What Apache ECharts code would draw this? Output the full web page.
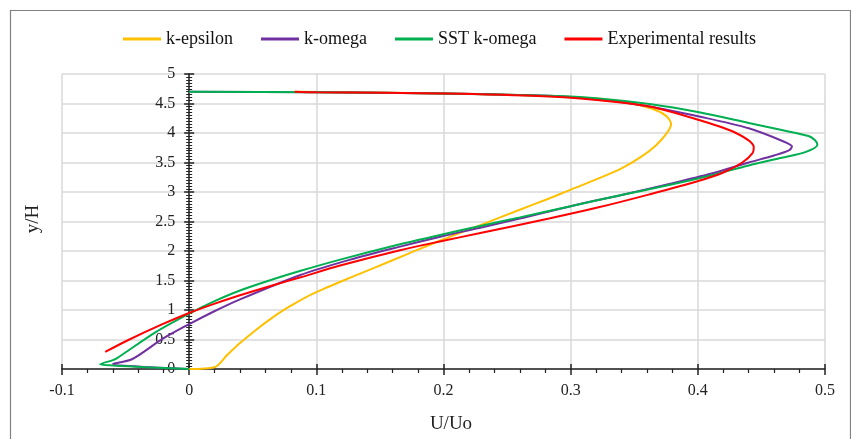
<!DOCTYPE html>
<html>
<head>
<meta charset="utf-8">
<script src="https://cdn.jsdelivr.net/npm/echarts@6/dist/echarts.min.js"></script>
<style>
html,body{margin:0;padding:0;background:#fff;}
#chart{width:851px;height:439px;}
</style>
</head>
<body>
<div id="chart"></div>
<script>
// Series names
const seriesNames = ['k-epsilon', 'k-omega', 'SST k-omega', 'Experimental results'];
// Axis tick settings
const xTicks = { min: -0.1, max: 0.5, interval: 0.1 };
const yTicks = { min: 0, max: 5, interval: 0.5 };
const axisTitles = { x: 'U/Uo', y: 'y/H' };

// [U/Uo, y/H] points along each profile
const kEpsilon = [
  [0, 0], [0.02, 0.03], [0.03, 0.24], [0.04, 0.44], [0.053, 0.67], [0.066, 0.88],
  [0.079, 1.06], [0.092, 1.22], [0.105, 1.35], [0.118, 1.47], [0.145, 1.71],
  [0.173, 1.96], [0.199, 2.19], [0.228, 2.43], [0.26, 2.70], [0.283, 2.89],
  [0.30, 3.04], [0.322, 3.23], [0.34, 3.40], [0.355, 3.59], [0.367, 3.79],
  [0.375, 3.98], [0.379, 4.15], [0.375, 4.29], [0.364, 4.41], [0.336, 4.55],
  [0.30, 4.61], [0.25, 4.65], [0.2, 4.67], [0.12, 4.69], [0.083, 4.70]
];
const kOmega = [
  [0, 0], [-0.03, 0.03], [-0.060, 0.085], [-0.045, 0.165], [-0.021, 0.51],
  [0, 0.76], [0.019, 0.97], [0.040, 1.18], [0.087, 1.59], [0.126, 1.85],
  [0.165, 2.07], [0.199, 2.25], [0.228, 2.39], [0.26, 2.55], [0.30, 2.76],
  [0.34, 2.95], [0.38, 3.15], [0.41, 3.31], [0.44, 3.50], [0.46, 3.62],
  [0.472, 3.71], [0.474, 3.77], [0.467, 3.86], [0.440, 4.08], [0.401, 4.28],
  [0.362, 4.45], [0.32, 4.57], [0.283, 4.63], [0.2, 4.67], [0.1, 4.69], [0, 4.70]
];
const sstKOmega = [
  [0, 0], [-0.034, 0.03], [-0.060, 0.06], [-0.070, 0.08], [-0.060, 0.15],
  [-0.057, 0.18], [-0.026, 0.63], [0, 0.94], [0.02, 1.15], [0.040, 1.33],
  [0.066, 1.52], [0.087, 1.66], [0.118, 1.85], [0.165, 2.11], [0.199, 2.28],
  [0.228, 2.42], [0.26, 2.57], [0.30, 2.76], [0.34, 2.95], [0.38, 3.13],
  [0.41, 3.28], [0.44, 3.45], [0.466, 3.58], [0.485, 3.68], [0.494, 3.80],
  [0.492, 3.88], [0.487, 3.95], [0.466, 4.05], [0.440, 4.17], [0.401, 4.35],
  [0.362, 4.49], [0.32, 4.59], [0.283, 4.63], [0.2, 4.67], [0.1, 4.69], [0, 4.70]
];
const experimental = [
  [-0.066, 0.29], [-0.047, 0.50], [-0.021, 0.76], [0, 0.95], [0.019, 1.10],
  [0.040, 1.25], [0.066, 1.42], [0.087, 1.55], [0.118, 1.75], [0.165, 2.01],
  [0.199, 2.17], [0.228, 2.30], [0.283, 2.55], [0.322, 2.74], [0.362, 2.96],
  [0.401, 3.19], [0.42, 3.33], [0.435, 3.50], [0.443, 3.66], [0.444, 3.76],
  [0.430, 4.00], [0.401, 4.22], [0.362, 4.45], [0.32, 4.56], [0.283, 4.62],
  [0.2, 4.67], [0.1, 4.69], [0.083, 4.70]
];

const colors = ['#FFC000', '#7030A0', '#00B050', '#FF0000'];
const dataSets = [kEpsilon, kOmega, sstKOmega, experimental];
const FONT = '"Liberation Serif", "Times New Roman", serif';

const W = 851, H = 439;
const G = { left: 62, right: 26, top: 74, bottom: 70 };
const gridW = W - G.left - G.right;
// shift y axis to x = 0
const yOffset = -gridW * (0 - xTicks.min) / (xTicks.max - xTicks.min);

const chart = echarts.init(document.getElementById('chart'));
chart.setOption({
  animation: false,
  backgroundColor: '#fff',
  color: colors,
  textStyle: { fontFamily: FONT },
  grid: { left: G.left, right: G.right, top: G.top, bottom: G.bottom, containLabel: false },
  legend: {
    left: 118, top: 25,
    icon: 'rect',
    itemWidth: 38, itemHeight: 3, itemGap: 28,
    textStyle: { fontFamily: FONT, fontSize: 18, color: '#111' },
    data: seriesNames
  },
  xAxis: [{
    type: 'value',
    min: xTicks.min, max: xTicks.max, interval: xTicks.interval,
    axisLine: { show: true, onZero: false, lineStyle: { color: '#222', width: 1.5 } },
    axisTick: { show: true, length: 6, lineStyle: { color: '#222', width: 1.5 } },
    minorTick: { show: true, splitNumber: 5, length: 4, lineStyle: { color: '#222', width: 1.2 } },
    axisLabel: { fontFamily: FONT, fontSize: 16, color: '#222', margin: 14 },
    splitLine: { show: true, lineStyle: { color: '#D9D9D9', width: 1.5 } }
  }, {
    type: 'value', position: 'bottom',
    min: xTicks.min, max: xTicks.max, interval: xTicks.interval,
    axisLine: { show: false, onZero: false },
    axisTick: { show: true, inside: true, length: 5, lineStyle: { color: '#222', width: 1.5 } },
    axisLabel: { show: false },
    splitLine: { show: false }
  }],
  yAxis: [{
    type: 'value', position: 'left', offset: yOffset,
    min: yTicks.min, max: yTicks.max, interval: yTicks.interval,
    axisLine: { show: true, onZero: false, lineStyle: { color: '#222', width: 1.5 } },
    axisTick: { show: true, length: 5, lineStyle: { color: '#222', width: 1.5 } },
    minorTick: { show: true, splitNumber: 10, length: 3, lineStyle: { color: '#222', width: 1 } },
    axisLabel: { fontFamily: FONT, fontSize: 16, color: '#222', margin: 14 },
    splitLine: { show: true, lineStyle: { color: '#D9D9D9', width: 1.5 } }
  }, {
    type: 'value', position: 'left', offset: yOffset,
    min: yTicks.min, max: yTicks.max, interval: yTicks.interval,
    axisLine: { show: false, onZero: false },
    axisTick: { show: true, inside: true, length: 5, lineStyle: { color: '#222', width: 1.5 } },
    minorTick: { show: true, splitNumber: 10, length: 3, lineStyle: { color: '#222', width: 1 } },
    axisLabel: { show: false },
    splitLine: { show: false }
  }],
  graphic: [
    { type: 'rect', left: 8, top: 8, shape: { width: 840, height: 440 },
      style: { fill: 'none', stroke: '#808080', lineWidth: 1.2 }, z: -1 },
    { type: 'text', x: 33, y: 219, rotation: Math.PI / 2,
      style: { text: axisTitles.y, fontFamily: FONT, fontSize: 19, fill: '#222',
               align: 'center', verticalAlign: 'middle' } },
    { type: 'text', x: 451, y: 424,
      style: { text: axisTitles.x, fontFamily: FONT, fontSize: 19, fill: '#222',
               align: 'center', verticalAlign: 'middle' } }
  ],
  series: dataSets.map((d, i) => ({
    name: seriesNames[i],
    type: 'line',
    data: d,
    showSymbol: false,
    symbol: 'none',
    smooth: 0.3,
    lineStyle: { color: colors[i], width: 2 },
    itemStyle: { color: colors[i] },
    z: 2 + i
  }))
});
</script>
</body>
</html>
